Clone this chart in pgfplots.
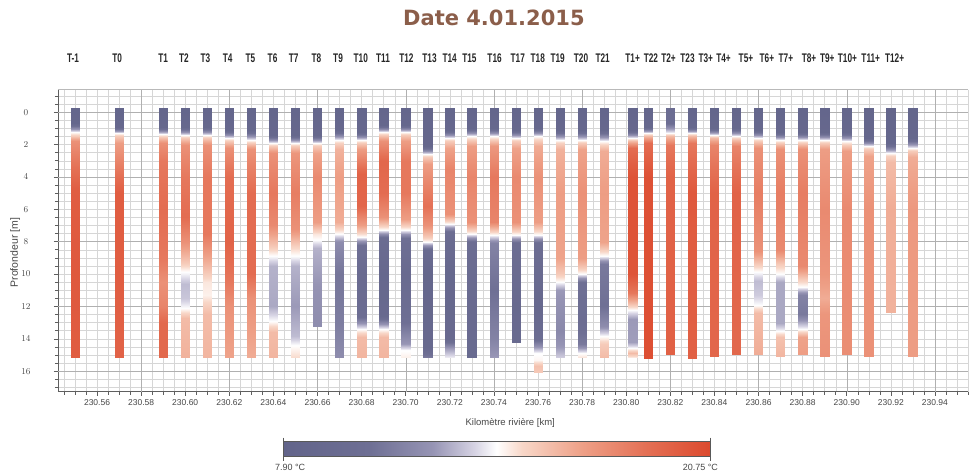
\documentclass[border=0pt]{standalone}
\usepackage{fontspec}
\setmainfont{Liberation Sans}
\newfontfamily\titlefont{DejaVu Sans}
\newfontfamily\labfont[FakeStretch=0.66]{Liberation Sans}
\usepackage{pgfplots}
\pgfplotsset{compat=1.18}
\definecolor{titlebrown}{RGB}{139,94,74}
\definecolor{ticktext}{RGB}{70,70,70}
\definecolor{axisgray}{RGB}{95,95,95}

\pgfplotsset{tbar/.style={surf, shader=interp, mesh/cols=2, point meta=explicit}}

% #1 bar position [m after km 230.5], #2 label position, #3 label, #4 depth/temperature
\newcommand\tbar[4]{%
  \pgfmathsetmacro\xl{#1-2}\pgfmathsetmacro\xr{#1+2}%
  \gdef\pts{}%
  \foreach \dep/\tem in {#4}{\xdef\pts{\pts (\xl,\dep) [\tem] (\xr,\dep) [\tem]}}%
  \edef\tbarnext{\noexpand\addplot[tbar] coordinates {\pts};}\tbarnext
  \node[font=\labfont\bfseries\fontsize{12.5bp}{14bp}\selectfont, text=black!85] at (axis cs:#2,-3.33) {#3};%
}

\begin{document}
\begin{tikzpicture}
\begin{axis}[
  name=ax,
  scale only axis, width=910bp, height=302.2bp,
  xmin=42.3, xmax=455, ymin=-1.4, ymax=17.27,
  y dir=reverse,
  clip=false,
  xtick={60,80,...,440},
  xticklabels={230.56,230.58,230.60,230.62,230.64,230.66,230.68,230.70,230.72,230.74,
    230.76,230.78,230.80,230.82,230.84,230.86,230.88,230.90,230.92,230.94},
  minor xtick={45,50,...,455},
  ytick={0,2,...,16},
  minor ytick={-1,-0.5,...,17},
  grid=both,
  major grid style={draw=gray!32},
  minor grid style={draw=gray!32},
  extra x ticks={80,120,...,440}, extra x tick labels={},
  extra x tick style={major grid style={draw=gray!62}},
  extra y ticks={0,4,...,16}, extra y tick labels={},
  extra y tick style={major grid style={draw=gray!62}},
  axis x line*=bottom, axis y line*=left,
  axis line style={draw=axisgray, line width=0.6bp},
  tick style={draw=axisgray, line width=0.5bp},
  tick align=outside,
  major tick length=4bp, minor tick length=3bp,
  every x tick label/.append style={font=\fontsize{8.5bp}{10bp}\selectfont, text=ticktext},
  every y tick label/.append style={font=\fontsize{8.5bp}{10bp}\selectfont, text=ticktext, anchor=center, xshift=-28bp},
  xlabel={Kilomètre rivière [km]},
  ylabel={Profondeur [m]},
  every axis x label/.style={at={(axis description cs:0.497,-0.104)}, anchor=center,
    font=\fontsize{9.5bp}{11bp}\selectfont, text=ticktext},
  every axis y label/.style={at={(axis description cs:-0.047,0.46)}, rotate=90, anchor=center,
    font=\fontsize{10.5bp}{12bp}\selectfont, text=ticktext},
  colormap={river}{rgb255(0cm)=(98,100,138) rgb255(20cm)=(110,111,148) rgb255(35cm)=(150,148,180)
    rgb255(45cm)=(215,212,228) rgb255(50cm)=(255,255,255) rgb255(56cm)=(248,215,200)
    rgb255(70cm)=(238,160,135) rgb255(85cm)=(228,112,85) rgb255(100cm)=(220,74,46)},
  point meta min=7.9, point meta max=20.75,
  colorbar horizontal,
  colorbar style={
    at={(parent axis.south west)}, anchor=north west,
    xshift=225bp, yshift=-41.3bp,
    scale only axis, width=427bp, height=15bp,
    axis lines=box, grid=none,
    minor xtick={}, minor ytick={}, extra x ticks={}, extra y ticks={},
    xtick={7.9,20.75}, ytick=\empty,
    xticklabels={{\makebox[0pt][l]{\hspace*{-8bp}7.90 °C}},{\makebox[0pt][r]{20.75 °C\hspace*{-8bp}}}},
    every x tick label/.append style={font=\fontsize{9bp}{10bp}\selectfont, text=ticktext},
    axis line style={draw=gray!70!black, line width=0.8bp},
    tick style={draw=gray!70!black},
    tick align=outside, major tick length=4bp,
  },
]
\draw[gray!55] (axis description cs:0,1) -- (axis description cs:1,1);
\tbar{50}{49.1}{T-1}{-0.25/8.3, 0.7/8.6, 1.2/14.3, 1.45/15.5, 1.8/17.5, 3/18.5, 4.8/19.8, 10/20, 15.15/19.8}
\tbar{70}{69.1}{T0}{-0.25/8.3, 0.9/8.7, 1.3/14.3, 1.5/15.5, 1.9/17, 3/18, 5/19.8, 10/19.8, 15.15/19.5}
\tbar{90}{90}{T1}{-0.25/8.3, 0.9/8.8, 1.35/14.3, 1.55/15.5, 1.9/17.5, 3/18.5, 6/19, 9/18.5, 10.5/17.5, 12/18, 13/19.2, 15.15/19.2}
\tbar{100}{99.4}{T2}{-0.25/8.3, 0.9/8.8, 1.4/14.3, 1.6/15.5, 2/17.5, 4/18.5, 6.5/19, 8/17.5, 9.3/15.5, 9.9/14.3, 10.6/13.2, 11.5/13.4, 12.1/14.3, 12.7/16, 15.15/16.3}
\tbar{110}{109.2}{T3}{-0.25/8.3, 0.9/8.8, 1.4/14.3, 1.6/15.5, 2/17.5, 4/18.5, 7.5/18.5, 9.2/16.5, 10.5/14.8, 11.3/14.6, 12.5/16, 15.15/16.2}
\tbar{120}{119.2}{T4}{-0.25/8.3, 1.1/8.8, 1.6/14.3, 1.8/15.5, 2.2/17.5, 4/19, 8/19.5, 10.5/18.5, 12/17.5, 15.15/16.8}
\tbar{130}{129.6}{T5}{-0.25/8.3, 1.1/8.8, 1.7/14.3, 1.9/15.5, 2.3/17.5, 5/19, 10/19, 11.5/17.5, 15.15/16.5}
\tbar{140}{139.6}{T6}{-0.25/8.3, 1.4/8.8, 1.9/14.3, 2.1/15.5, 2.5/17.5, 5/18.5, 7/17.8, 8.3/15.5, 8.9/14.3, 9.5/13, 12/12.8, 12.9/14.3, 13.6/16, 15.15/16.2}
\tbar{150}{149.2}{T7}{-0.25/8.3, 1.4/8.8, 1.9/14.3, 2.1/15.5, 2.5/17.3, 5/18.3, 7.2/17.5, 8.3/15.2, 8.9/14.3, 9.5/13, 12/12.5, 13.8/13.2, 14.4/14.3, 15.15/15}
\tbar{160}{159.5}{T8}{-0.25/8.3, 1.4/8.8, 1.9/14.3, 2.1/15.5, 2.5/16.8, 4/17.8, 6.8/17, 7.5/14.8, 7.9/14.3, 8.4/13, 11/12.3, 13.25/12}
\tbar{170}{169.3}{T9}{-0.25/8.3, 1.1/8.8, 1.7/14.3, 1.9/15.3, 2.3/16.3, 4/17, 6.8/16.5, 7.5/14.3, 8/12, 10/10.8, 13/11.2, 15.15/12}
\tbar{180}{179.6}{T10}{-0.25/8.3, 1.2/8.8, 1.7/14.3, 1.9/15.5, 2.3/17, 3.8/19.5, 5.8/19.3, 7/17, 7.7/14.3, 8.2/10.5, 10/9.5, 12.6/10, 13.4/14.3, 13.9/16, 15.15/16.2}
\tbar{190}{189.7}{T11}{-0.25/8.3, 0.8/8.8, 1.2/14.3, 1.4/15.5, 1.8/17.5, 3/19.3, 5/19, 6.5/17.5, 7.3/14.3, 7.8/9.8, 10/8.8, 12.6/9.2, 13.4/14.3, 13.9/16, 15.15/16.2}
\tbar{200}{200.3}{T12}{-0.25/8.3, 0.8/8.8, 1.2/14.3, 1.4/15.5, 1.8/17, 3/18.5, 5/18.5, 6.6/17, 7.3/14.3, 7.8/10.5, 10/9.3, 13/10.5, 14.3/12.5, 14.7/14.3, 15.15/14.6}
\tbar{210}{210.8}{T13}{-0.25/8.2, 2.1/8.5, 2.6/14.3, 2.8/15.5, 3.2/17, 4.5/18, 5.8/18.8, 7/17.5, 7.7/15.5, 8/14.3, 8.5/9.5, 10/8.5, 14.5/9, 15.15/11}
\tbar{220}{219.9}{T14}{-0.25/8.3, 1.1/8.8, 1.6/14.3, 1.8/15.5, 2.2/16.8, 3.5/18, 6.3/17.5, 6.9/14.3, 7.4/10, 10/8.8, 14/9.2, 14.6/12.5, 15.15/14}
\tbar{230}{228.9}{T15}{-0.25/8.3, 1.0/8.8, 1.5/14.3, 1.7/15.5, 2.1/17, 4/18, 6.8/17.5, 7.5/14.3, 8/10, 12/9.3, 15.15/9.5}
\tbar{240}{240.3}{T16}{-0.25/8.3, 1.0/8.8, 1.5/14.3, 1.7/15.5, 2.1/17.2, 4/18.5, 6.8/18, 7.6/14.3, 8.1/11.5, 11/10.5, 14/11.5, 15.15/12.5}
\tbar{250}{250.8}{T17}{-0.25/8.3, 1.1/8.8, 1.6/14.3, 1.8/15.5, 2.2/16.8, 4/17.8, 6.8/17.5, 7.6/14.3, 8.1/10, 12/9, 14.2/9.3}
\tbar{260}{259.9}{T18}{-0.25/8.3, 1.0/8.8, 1.5/14.3, 1.7/15.3, 2.1/16.5, 4/17.5, 6.8/17, 7.6/14.3, 8.1/10, 12/8.8, 14/10, 14.9/14.3, 15.3/14.5, 15.7/15.8, 16.1/15.5}
\tbar{270}{268.9}{T19}{-0.25/8.3, 1.1/8.8, 1.7/14.3, 1.9/15.3, 2.3/16.3, 5/17, 9/16.8, 10/15.5, 10.5/14.3, 11/12.5, 13.5/11.8, 14.5/12.5, 15.15/13.5}
\tbar{280}{279.5}{T20}{-0.25/8.3, 1.1/8.8, 1.7/14.3, 1.9/15.5, 2.3/16.8, 5/17.5, 9/17, 9.6/15.5, 10/14.3, 10.5/10.5, 13/10, 14.3/11, 14.9/14.3, 15.15/14.8}
\tbar{290}{289.3}{T21}{-0.25/8.3, 1.1/8.8, 1.8/14.3, 2/15.3, 2.4/16.5, 5/17, 8/16.8, 8.9/14.3, 9.4/11, 12/10.5, 13.2/12, 13.8/14.3, 14.3/15.5, 15.15/16}
\tbar{303}{302.9}{T1+}{-0.25/8.3, 1.1/8.8, 1.6/14.3, 1.8/16, 2.2/19, 4/20.3, 10/20.2, 11.2/18.5, 12.2/14.3, 12.8/12.5, 14.2/12.6, 14.6/14.3, 14.9/16, 15.15/14.8}
\tbar{310}{311.2}{T22}{-0.25/8.3, 0.9/8.8, 1.3/14.3, 1.5/16, 1.9/19, 4/20.4, 15.2/20.5}
\tbar{320}{319.2}{T2+}{-0.25/9.8, 0.7/10.2, 1.3/14.3, 1.5/16, 2/18.5, 4/19.5, 15.0/19.6}
\tbar{330}{327.8}{T23}{-0.25/8.3, 0.9/8.8, 1.3/14.3, 1.5/16, 1.9/18.5, 5/20, 8/19.8, 15.2/19.6}
\tbar{340}{336.1}{T3+}{-0.25/8.3, 1.0/8.8, 1.4/14.3, 1.6/16, 2/18, 5/19.5, 15.1/19.3}
\tbar{350}{344.1}{T4+}{-0.25/8.3, 1.0/8.8, 1.5/14.3, 1.7/16, 2.1/18, 5/19.5, 15.0/19.2}
\tbar{360}{354.3}{T5+}{-0.25/8.3, 1.1/8.8, 1.6/14.3, 1.8/15.5, 2.2/17.5, 5/18.3, 8.6/17.5, 9.4/15.5, 9.9/14.3, 10.4/13.2, 11.3/13.5, 11.9/14.3, 12.4/16, 15.0/16.5}
\tbar{370}{363.8}{T6+}{-0.25/8.3, 1.2/8.8, 1.7/14.3, 1.9/15.5, 2.3/17.5, 5/18.3, 8.5/17.8, 9.4/15.5, 10/14.3, 10.5/12.8, 13/12.8, 13.5/14.3, 13.9/15.8, 15.1/16.2}
\tbar{380}{372.4}{T7+}{-0.25/8.3, 1.2/8.8, 1.7/14.3, 1.9/15.5, 2.3/17.5, 5/18.3, 9.5/17.8, 10.3/15.5, 10.8/14.3, 11.3/11.5, 12.5/11, 13/13, 13.4/14.3, 13.9/16.8, 15.0/17}
\tbar{390}{382.9}{T8+}{-0.25/8.3, 1.2/8.8, 1.7/14.3, 1.9/15.5, 2.3/17, 6/17.8, 10/17.3, 11.5/16.5, 12.5/17.3, 15.1/17.5}
\tbar{400}{391.2}{T9+}{-0.25/8.3, 1.2/8.8, 1.8/14.3, 2/15.5, 2.4/17, 6/17.8, 15.0/17.6}
\tbar{410}{400.3}{T10+}{-0.25/8.2, 1.6/8.6, 2.1/14.3, 2.3/15.5, 2.7/16.8, 6/17.5, 15.1/17.5}
\tbar{420}{410.9}{T11+}{-0.25/8.2, 1.9/8.6, 2.5/14.3, 2.7/15.3, 3.1/16, 6/16.5, 12.4/16.3}
\tbar{430}{421.7}{T12+}{-0.25/8.3, 1.6/8.8, 2.2/14.3, 2.4/15.5, 2.8/16.5, 6/17.2, 15.1/17}
\node[font=\titlefont\bfseries\fontsize{21bp}{24bp}\selectfont, text=titlebrown]
  at (axis description cs:0.479,1.2366) {Date 4.01.2015};
\end{axis}
\pgfresetboundingbox
\path ([shift={(-58bp,-84.3bp)}]ax.south west) rectangle ([shift={(912bp,391.7bp)}]ax.south west);
\end{tikzpicture}
\end{document}
